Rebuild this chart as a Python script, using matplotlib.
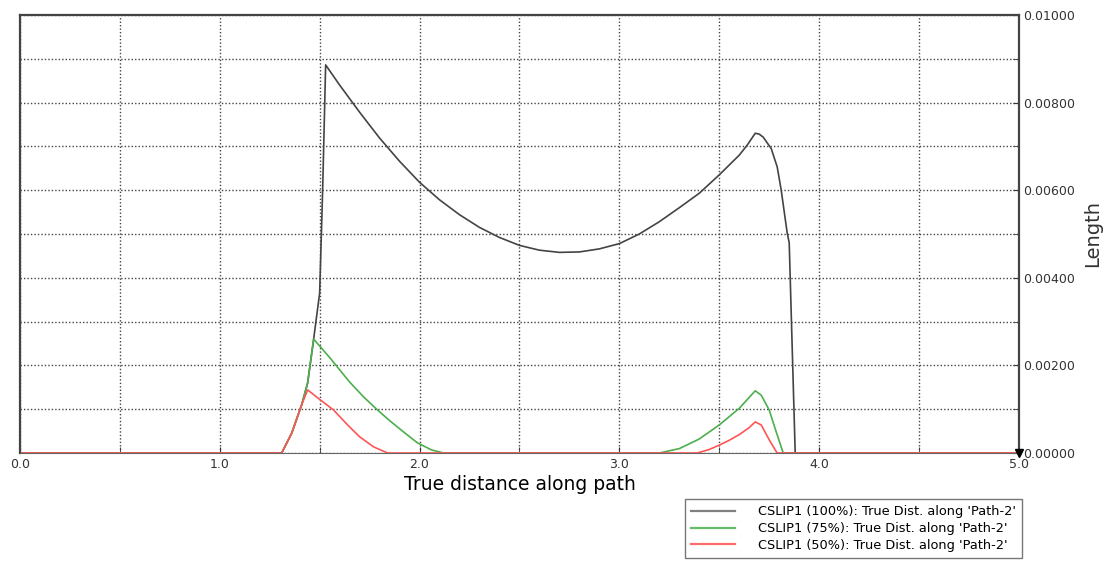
import matplotlib
matplotlib.use("Agg")
import matplotlib.pyplot as plt
from matplotlib.lines import Line2D
from matplotlib.ticker import MultipleLocator, FuncFormatter

# data (y values in units of 1e-3)
x_full = [0.0, 1.31, 1.36, 1.41, 1.44, 1.47, 1.50, 1.515, 1.53, 1.6, 1.7, 1.8, 1.9, 2.0,
          2.1, 2.2, 2.3, 2.4, 2.5, 2.6, 2.7, 2.8, 2.9, 3.0, 3.1, 3.2, 3.3, 3.4, 3.5,
          3.6, 3.64, 3.68, 3.70, 3.72, 3.76, 3.79, 3.81, 3.84, 3.85, 3.88, 5.0]
y_full = [0.0, 0.0, 0.45, 1.10, 1.60, 2.60, 3.65, 6.0, 8.86, 8.40, 7.78, 7.19, 6.66, 6.18,
          5.78, 5.44, 5.15, 4.92, 4.74, 4.63, 4.58, 4.59, 4.66, 4.78, 5.00, 5.28, 5.60,
          5.93, 6.35, 6.80, 7.03, 7.30, 7.28, 7.21, 6.95, 6.53, 6.0, 5.02, 4.80, 0.0, 0.0]

x_75 = [0.0, 1.31, 1.36, 1.41, 1.44, 1.47, 1.55, 1.65, 1.72, 1.79, 1.85, 1.92, 1.99,
        2.06, 2.12, 3.20, 3.30, 3.40, 3.50, 3.60, 3.68, 3.71, 3.75, 3.78, 3.82, 5.0]
y_75 = [0.0, 0.0, 0.45, 1.10, 1.60, 2.60, 2.18, 1.62, 1.28, 0.98, 0.74, 0.48, 0.23,
        0.07, 0.0, 0.0, 0.10, 0.32, 0.64, 1.02, 1.42, 1.32, 0.98, 0.55, 0.0, 0.0]

x_50 = [0.0, 1.31, 1.36, 1.41, 1.44, 1.49, 1.57, 1.64, 1.70, 1.77, 1.84,
        3.39, 3.45, 3.50, 3.55, 3.60, 3.65, 3.68, 3.71, 3.75, 3.78, 3.79, 5.0]
y_50 = [0.0, 0.0, 0.45, 1.10, 1.44, 1.26, 0.98, 0.64, 0.37, 0.14, 0.0,
        0.0, 0.08, 0.18, 0.29, 0.42, 0.58, 0.71, 0.64, 0.30, 0.07, 0.0, 0.0]

labels = ["CSLIP1 (100%): True Dist. along 'Path-2'",
          "CSLIP1 (75%): True Dist. along 'Path-2'",
          "CSLIP1 (50%): True Dist. along 'Path-2'"]
line_colors = ["#444444", "#4caf4c", "#ff5555"]
legend_colors = ["#808080", "#66bb66", "#ff6a6a"]

fig = plt.figure(figsize=(11.07, 5.63), dpi=100)
ax = fig.add_axes([0.018, 0.1954, 0.9025, 0.778])

for xs, ys, c in zip([x_full, x_75, x_50], [y_full, y_75, y_50], line_colors):
    ax.plot(xs, [v / 1000 for v in ys], color=c, lw=1.2)

ax.set_xlim(0, 5)
ax.set_ylim(0, 0.01)
ax.xaxis.set_major_locator(MultipleLocator(1.0))
ax.xaxis.set_minor_locator(MultipleLocator(0.5))
ax.yaxis.set_major_locator(MultipleLocator(0.002))
ax.yaxis.set_minor_locator(MultipleLocator(0.001))
ax.xaxis.set_major_formatter(FuncFormatter(lambda v, p: "%.1f" % v))
ax.yaxis.set_major_formatter(FuncFormatter(lambda v, p: "%.5f" % v))
ax.yaxis.tick_right()
ax.yaxis.set_label_position("right")
ax.tick_params(which="both", direction="in", labelsize=9, colors="#333333", length=4)
ax.tick_params(axis="y", which="both", left=False, right=True, pad=3)
ax.grid(which="both", color="#444444", linestyle=(0, (1, 1.5)), linewidth=1.0)

for side in ["top", "left", "right"]:
    ax.spines[side].set_color("#444444")
    ax.spines[side].set_linewidth(1.6)
ax.spines["bottom"].set_color("#666666")
ax.spines["bottom"].set_linewidth(0.8)
ax.plot([5.0], [0.0], marker="v", color="black", ms=6, clip_on=False, zorder=5)

ax.set_xlabel("True distance along path", fontsize=13.5, labelpad=3)
ax.set_ylabel("Length", fontsize=14, labelpad=6, color="#333333")

handles = [Line2D([], [], color=c, lw=1.6) for c in legend_colors]
fig.legend(handles, labels, loc="upper left", bbox_to_anchor=(0.619, 0.113),
           fontsize=9.3, handlelength=3.4, frameon=True, fancybox=False,
           edgecolor="#555555", borderpad=0.45, labelspacing=0.3, handletextpad=1.8,
           borderaxespad=0)

fig.savefig("out.png", dpi=100)
